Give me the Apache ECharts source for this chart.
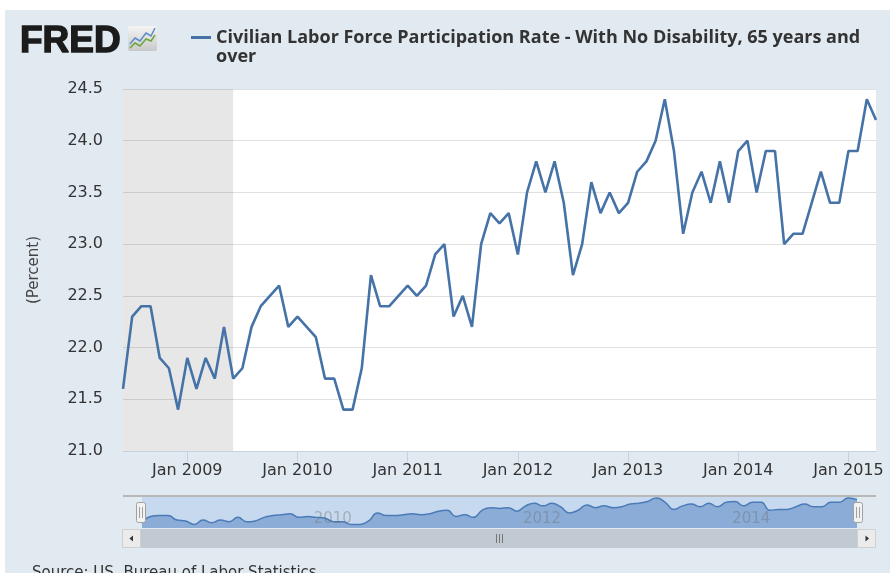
<!DOCTYPE html>
<html>
<head>
<meta charset="utf-8">
<script src="https://cdn.jsdelivr.net/npm/echarts@6/dist/echarts.min.js"></script>
<style>
  html, body { margin: 0; padding: 0; background: #fff; }
  #chart { width: 890px; height: 573px; }
</style>
</head>
<body>
<div id="chart"></div>
<script>
// Civilian labor force participation rate, no disability, 65+ (percent), monthly
const seriesName = 'Civilian Labor Force Participation Rate - With No Disability, 65 years and over';
const firstYear = 2008;
const firstMonth = 6;
const values2008 = [21.6, 22.3, 22.4, 22.4, 21.9, 21.8, 21.4];
const values2009 = [21.9, 21.6, 21.9, 21.7, 22.2, 21.7, 21.8, 22.2, 22.4, 22.5, 22.6, 22.2];
const values2010 = [22.3, 22.2, 22.1, 21.7, 21.7, 21.4, 21.4, 21.8, 22.7, 22.4, 22.4, 22.5];
const values2011 = [22.6, 22.5, 22.6, 22.9, 23.0, 22.3, 22.5, 22.2, 23.0, 23.3, 23.2, 23.3];
const values2012 = [22.9, 23.5, 23.8, 23.5, 23.8, 23.4, 22.7, 23.0, 23.6, 23.3, 23.5, 23.3];
const values2013 = [23.4, 23.7, 23.8, 24.0, 24.4, 23.9, 23.1, 23.5, 23.7, 23.4, 23.8, 23.4];
const values2014 = [23.9, 24.0, 23.5, 23.9, 23.9, 23.0, 23.1, 23.1, 23.4, 23.7, 23.4, 23.4];
const values2015 = [23.9, 23.9, 24.4, 24.2];

const recession = ['2008-06', '2009-06'];
const navigatorLabels = ['2010-01', '2012-01', '2014-01'];
const yMin = 21, yMax = 24.5, yStep = 0.5;

const values = [].concat(values2008, values2009, values2010, values2011,
  values2012, values2013, values2014, values2015);
const months = values.map((_, i) => {
  const m = firstMonth - 1 + i;
  return (firstYear + Math.floor(m / 12)) + '-' + String(m % 12 + 1).padStart(2, '0');
});

const isJanuary = (idx, val) => val.endsWith('-01');
const monthNames = ['Jan','Feb','Mar','Apr','May','Jun','Jul','Aug','Sep','Oct','Nov','Dec'];

const chart = echarts.init(document.getElementById('chart'));

const option = {
  backgroundColor: '#e1e9f1',
  animation: false,
  textStyle: { fontFamily: 'DejaVu Sans' },
  title: {
    text: 'FRED',
    left: 15,
    top: 18,
    textStyle: {
      fontSize: 37, fontWeight: 'bold', color: '#1b1b1b', fontFamily: 'Liberation Sans',
      textBorderColor: '#1b1b1b', textBorderWidth: 1.4
    }
  },
  legend: {
    data: [seriesName],
    left: 186,
    top: 4,
    icon: 'rect',
    itemWidth: 20,
    itemHeight: 3,
    // empty first line keeps the key level with the first text line
    formatter: name => '\n' + name.replace(' and over', ' and\nover'),
    textStyle: {
      fontFamily: 'Open Sans',
      fontWeight: 'bold',
      fontSize: 18,
      lineHeight: 19,
      color: '#333'
    }
  },
  grid: [
    { left: 123, top: 89, width: 753, height: 362, show: true, backgroundColor: '#fff', borderWidth: 0 },
    { left: 142, top: 497, width: 715, height: 31, show: true, backgroundColor: '#c7d9ee', borderWidth: 0 }
  ],
  xAxis: [
    {
      type: 'category',
      gridIndex: 0,
      data: months,
      boundaryGap: false,
      axisLine: { lineStyle: { color: '#c3d1e0', width: 1 } },
      axisTick: { interval: isJanuary, length: 11, lineStyle: { color: '#c3d1e0' } },
      axisLabel: {
        interval: isJanuary,
        margin: 12,
        fontSize: 16,
        color: '#333',
        formatter: val => monthNames[+val.slice(5) - 1] + ' ' + val.slice(0, 4)
      },
      splitLine: { show: false }
    },
    {
      type: 'category',
      gridIndex: 1,
      z: 10,
      data: months,
      boundaryGap: false,
      axisLine: { show: false },
      axisTick: { show: false },
      axisLabel: {
        inside: true,
        interval: (idx, val) => navigatorLabels.includes(val),
        formatter: val => val.slice(0, 4),
        align: 'left',
        verticalAlign: 'bottom',
        margin: 1,
        padding: [0, 0, 0, 6],
        fontSize: 15,
        color: 'rgba(110,110,110,0.4)'
      }
    }
  ],
  yAxis: [
    {
      type: 'value',
      gridIndex: 0,
      min: yMin,
      max: yMax,
      interval: yStep,
      name: '(Percent)',
      nameLocation: 'middle',
      nameGap: 81,
      nameTextStyle: { fontSize: 15, color: '#444' },
      axisLine: { show: false },
      axisTick: { show: false },
      axisLabel: { fontSize: 16, color: '#333', margin: 20, formatter: v => v.toFixed(1) },
      splitLine: { lineStyle: { color: '#e0e0e0', width: 1 } }
    },
    { type: 'value', gridIndex: 1, min: yMin, max: yMax, show: false, splitLine: { show: false } }
  ],
  series: [
    {
      name: seriesName,
      type: 'line',
      xAxisIndex: 0,
      yAxisIndex: 0,
      data: values,
      symbol: 'none',
      lineStyle: { color: '#4572a7', width: 2.6 },
      itemStyle: { color: '#4572a7' },
      markArea: {
        silent: true,
        itemStyle: { color: 'rgba(0,0,0,0.095)' },
        data: [[{ xAxis: recession[0] }, { xAxis: recession[1] }]]
      }
    },
    {
      name: 'navigator',
      type: 'line',
      xAxisIndex: 1,
      yAxisIndex: 1,
      data: values,
      smooth: true,
      symbol: 'none',
      silent: true,
      lineStyle: { color: '#4a7bb8', width: 1.5 },
      areaStyle: { color: '#8bacd6', opacity: 1 }
    }
  ],
  graphic: [
    // white page margin around the panel
    { type: 'rect', shape: { x: 0, y: 0, width: 890, height: 10 }, style: { fill: '#fff' }, silent: true },
    { type: 'rect', shape: { x: 0, y: 0, width: 5, height: 573 }, style: { fill: '#fff' }, silent: true },
    // logo icon
    { type: 'rect', shape: { x: 128, y: 26, width: 29, height: 25, r: 2 }, style: {
        fill: new echarts.graphic.LinearGradient(0, 0, 0, 1, [
          { offset: 0, color: '#f4f4f4' }, { offset: 1, color: '#c9c9c9' }
        ]) }, silent: true },
    { type: 'polyline', shape: { points: [[130, 44], [135, 38], [140, 41], [146, 33], [151, 36], [155, 28]] },
      style: { stroke: '#5b8cc8', lineWidth: 1.5, fill: null }, silent: true },
    { type: 'polyline', shape: { points: [[130, 48], [135, 43], [140, 46], [146, 39], [151, 41], [155, 35]] },
      style: { stroke: '#6aa63a', lineWidth: 1.5, fill: null }, silent: true },
    // navigator outline
    { type: 'line', shape: { x1: 123, y1: 496, x2: 876, y2: 496 }, style: { stroke: '#b8b8b8', lineWidth: 2 }, silent: true },
    // scrollbar
    { type: 'rect', shape: { x: 141, y: 529, width: 716, height: 19 }, style: { fill: '#c1c9d2' }, silent: true },
    { type: 'rect', shape: { x: 122.5, y: 529.5, width: 18, height: 18 }, style: { fill: '#ebebeb', stroke: '#cfcfcf' }, silent: true },
    { type: 'polygon', shape: { points: [[129.5, 538.5], [133, 535.5], [133, 541.5]] }, style: { fill: '#333' }, silent: true },
    { type: 'rect', shape: { x: 857.5, y: 529.5, width: 18, height: 18 }, style: { fill: '#ebebeb', stroke: '#cfcfcf' }, silent: true },
    { type: 'polygon', shape: { points: [[869, 538.5], [865.5, 535.5], [865.5, 541.5]] }, style: { fill: '#333' }, silent: true },
    { type: 'line', shape: { x1: 496.5, y1: 534, x2: 496.5, y2: 543 }, style: { stroke: '#777', lineWidth: 1 }, silent: true },
    { type: 'line', shape: { x1: 499.5, y1: 534, x2: 499.5, y2: 543 }, style: { stroke: '#777', lineWidth: 1 }, silent: true },
    { type: 'line', shape: { x1: 502.5, y1: 534, x2: 502.5, y2: 543 }, style: { stroke: '#777', lineWidth: 1 }, silent: true },
    // navigator handles
    { type: 'rect', z: 100, shape: { x: 136.5, y: 502.5, width: 9, height: 20, r: 2 }, style: { fill: '#f2f2f2', stroke: '#a0a0a0' }, silent: true },
    { type: 'line', z: 101, shape: { x1: 139.5, y1: 507, x2: 139.5, y2: 518 }, style: { stroke: '#a0a0a0' }, silent: true },
    { type: 'line', z: 101, shape: { x1: 142.5, y1: 507, x2: 142.5, y2: 518 }, style: { stroke: '#a0a0a0' }, silent: true },
    { type: 'rect', z: 100, shape: { x: 853.5, y: 502.5, width: 9, height: 20, r: 2 }, style: { fill: '#f2f2f2', stroke: '#a0a0a0' }, silent: true },
    { type: 'line', z: 101, shape: { x1: 856.5, y1: 507, x2: 856.5, y2: 518 }, style: { stroke: '#a0a0a0' }, silent: true },
    { type: 'line', z: 101, shape: { x1: 859.5, y1: 507, x2: 859.5, y2: 518 }, style: { stroke: '#a0a0a0' }, silent: true },
    // source note
    { type: 'text', left: 32, top: 566, style: { text: 'Source: US. Bureau of Labor Statistics', fontSize: 15, fill: '#333', fontFamily: 'DejaVu Sans' }, silent: true }
  ]
};

chart.setOption(option);
</script>
</body>
</html>
